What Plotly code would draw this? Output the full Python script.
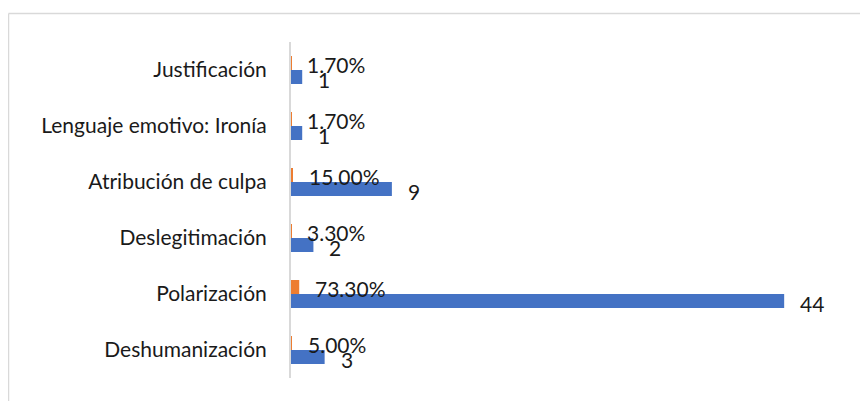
import plotly.graph_objects as go

categories = ["Deshumanización", "Polarización", "Deslegitimación",
              "Atribución de culpa", "Lenguaje emotivo: Ironía", "Justificación"]
counts = [3, 44, 2, 9, 1, 1]
percents = [0.05, 0.733, 0.033, 0.15, 0.017, 0.017]

FONT = "Lato"
FS = 21
TXT = "#1a1a1a"

fig = go.Figure()
fig.add_trace(go.Bar(y=categories, x=counts, orientation="h",
                     marker=dict(color="#4472C4", line=dict(width=0)),
                     name="Frecuencia"))
fig.add_trace(go.Bar(y=categories, x=percents, orientation="h",
                     marker=dict(color="#ED7D31", line=dict(width=0)),
                     name="Porcentaje"))

annotations = []
for c, n, p in zip(categories, counts, percents):
    annotations.append(dict(x=p, y=c, xref="x", yref="y", text=f"{p*100:.2f}%",
                            showarrow=False, xanchor="left", yanchor="middle",
                            xshift=14, yshift=6,
                            font=dict(family=FONT, size=FS, color=TXT)))
    annotations.append(dict(x=n, y=c, xref="x", yref="y", text=str(n),
                            showarrow=False, xanchor="left", yanchor="middle",
                            xshift=14, yshift=-9,
                            font=dict(family=FONT, size=FS, color=TXT)))

# page has an 8px body margin: figure coords = screen coords - 8
OFF = 8
FW, FH = 868 - OFF, 401 - OFF
L, T, W, H = 291 - OFF, 42 - OFF, 538, 336


def px(xp):
    return (xp - OFF - L) / W


def py(yp):
    return 1 - (yp - OFF - T) / H


shapes = [
    dict(type="line", xref="paper", yref="paper", x0=px(8.5), x1=px(900),
         y0=py(13.5), y1=py(13.5), line=dict(color="#d9d9d9", width=1.5)),
    dict(type="line", xref="paper", yref="paper", x0=px(8.5), x1=px(8.5),
         y0=py(13.5), y1=py(420), line=dict(color="#d9d9d9", width=1.5)),
]

fig.update_layout(
    width=FW, height=FH,
    margin=dict(l=L, r=FW - L - W, t=T, b=FH - T - H),
    barmode="group", bargap=0.5, bargroupgap=0,
    showlegend=False,
    plot_bgcolor="white", paper_bgcolor="white",
    font=dict(family=FONT, size=FS, color=TXT),
    xaxis=dict(range=[0, 48], visible=False, fixedrange=True),
    yaxis=dict(categoryorder="array", categoryarray=categories,
               showline=True, linecolor="#d9d9d9", linewidth=2,
               showgrid=False, zeroline=False, ticks="",
               ticklabelstandoff=18,
               tickfont=dict(family=FONT, size=FS, color=TXT)),
    annotations=annotations,
    shapes=shapes,
)

fig.write_html("out.html")
